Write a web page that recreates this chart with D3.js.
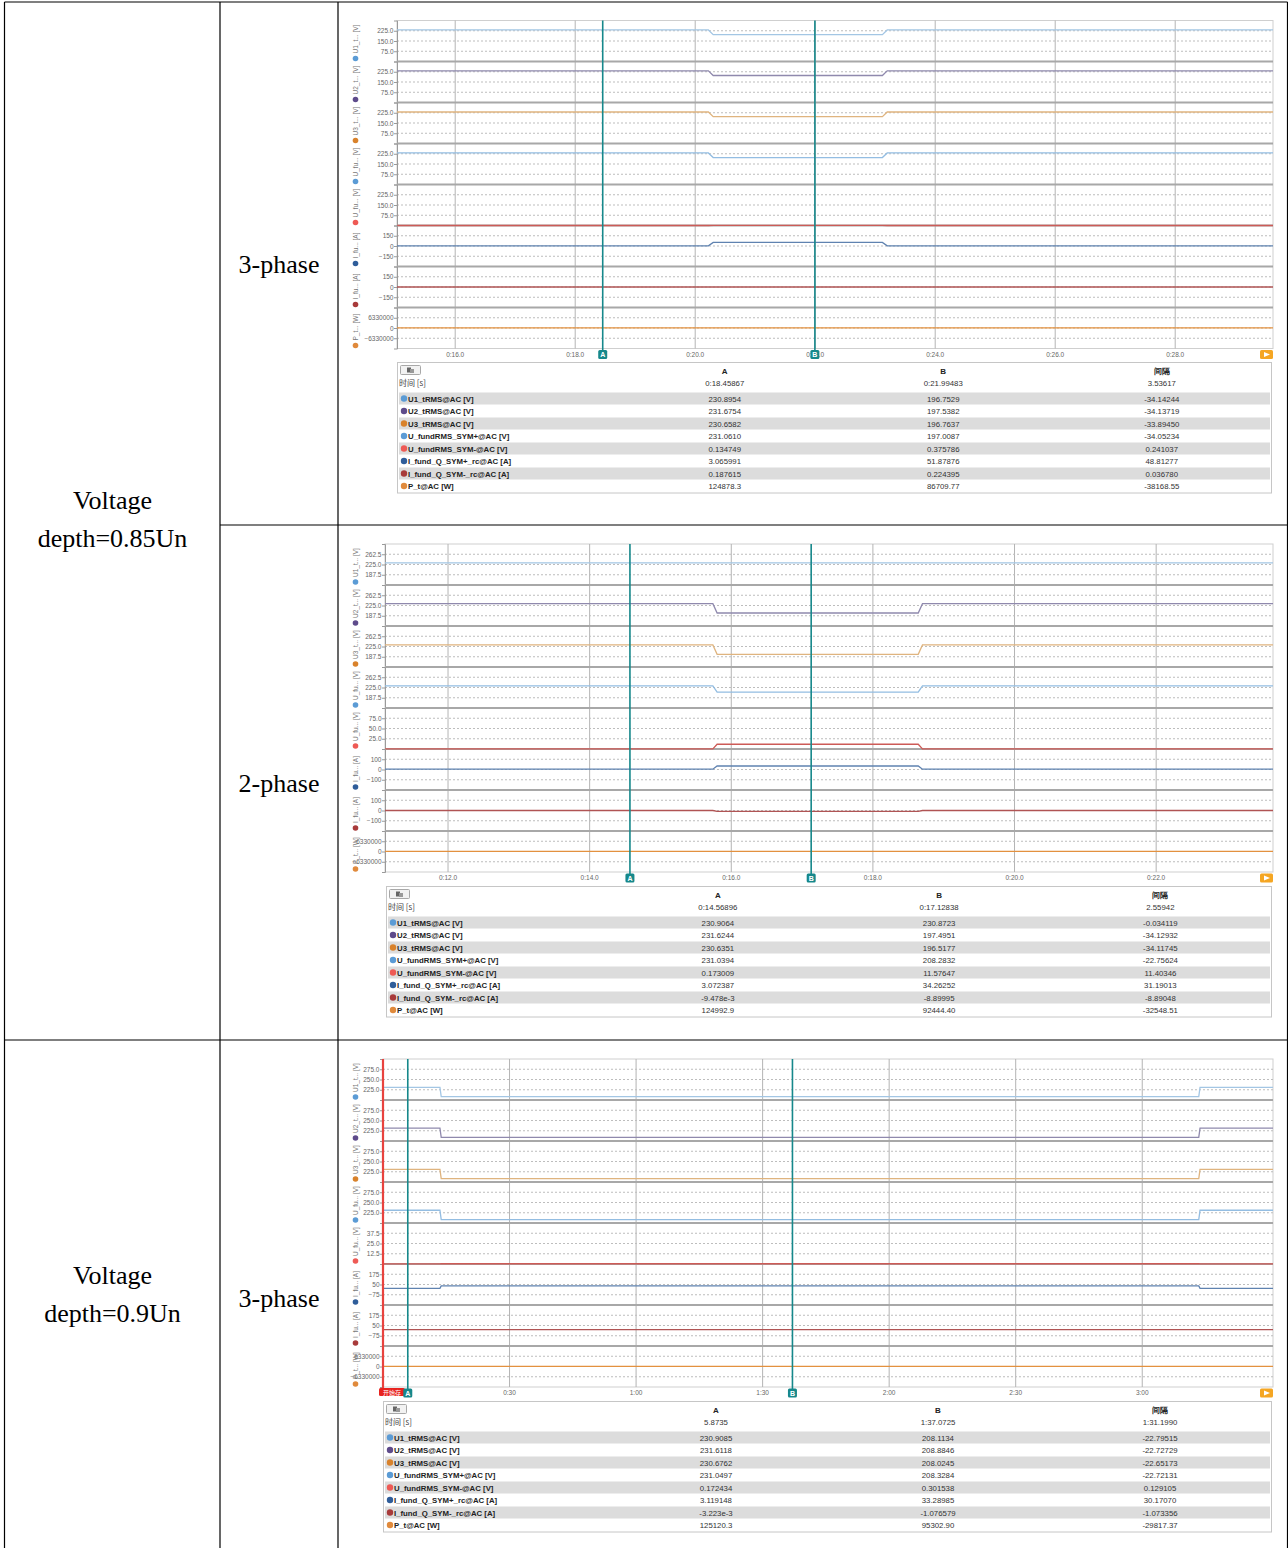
<!DOCTYPE html>
<html>
<head>
<meta charset="utf-8">
<script src="https://cdn.jsdelivr.net/npm/d3@7"></script>
<style>
  body { margin: 0; background: #fff; }
  svg { display: block; }
</style>
</head>
<body>
<div id="chart"></div>
<script>
// channel names (table) and short names (rotated axis labels)
var channelNames = ["U1_tRMS@AC [V]", "U2_tRMS@AC [V]", "U3_tRMS@AC [V]", "U_fundRMS_SYM+@AC [V]",
  "U_fundRMS_SYM-@AC [V]", "I_fund_Q_SYM+_rc@AC [A]", "I_fund_Q_SYM-_rc@AC [A]", "P_t@AC [W]"];
var axisNames = ["U1_t... [V]", "U2_t... [V]", "U3_t... [V]", "U_fu... [V]", "U_fu... [V]",
  "I_fu... [A]", "I_fu... [A]", "P_t... [W]"];
var dotColors = ["#5b9bd5", "#5e4b8b", "#d9822b", "#5b9bd5", "#ee5a55", "#2f5d9a", "#a83a3a", "#e08a3c"];
var lineColors = ["#a3c6e4", "#8f89ad", "#dfb47f", "#93bde2", "#cd5b57", "#5f82b0", "#b05454", "#e3913f"];

var groupLabels = [["Voltage", "depth=0.85Un"], ["Voltage", "depth=0.9Un"]];
var phaseLabels = ["3-phase", "2-phase", "3-phase"];
var colHeads = ["A", "B", "间隔"];

// panel 1 : 0.85Un, 3-phase
var p1Time = ["0:18.45867", "0:21.99483", "3.53617"];
var p1A = ["230.8954", "231.6754", "230.6582", "231.0610", "0.134749", "3.065991", "0.187615", "124878.3"];
var p1B = ["196.7529", "197.5382", "196.7637", "197.0087", "0.375786", "51.87876", "0.224395", "86709.77"];
var p1D = ["-34.14244", "-34.13719", "-33.89450", "-34.05234", "0.241037", "48.81277", "0.036780", "-38168.55"];
var p1Cursors = [18.45867, 21.99483];
var p1Sag = [20.22, 20.3, 23.12, 23.2];
var p1Range = [15.03, 29.63];
var p1Ticks = [16, 18, 20, 22, 24, 26, 28];
var p1YDom = [[0, 300], [0, 300], [0, 300], [0, 300], [0, 300], [-300, 300], [-300, 300], [-12660000, 12660000]];
var p1YTicks = [[75, 150, 225], [75, 150, 225], [75, 150, 225], [75, 150, 225], [75, 150, 225],
  [-150, 0, 150], [-150, 0, 150], [-6330000, 0, 6330000]];

// panel 2 : 0.85Un, 2-phase
var p2Time = ["0:14.56896", "0:17.12838", "2.55942"];
var p2A = ["230.9064", "231.6244", "230.6351", "231.0394", "0.173009", "3.072387", "-9.478e-3", "124992.9"];
var p2B = ["230.8723", "197.4951", "196.5177", "208.2832", "11.57647", "34.26252", "-8.89995", "92444.40"];
var p2D = ["-0.034119", "-34.12932", "-34.11745", "-22.75624", "11.40346", "31.19013", "-8.89048", "-32548.51"];
var p2Cursors = [14.56896, 17.12838];
var p2Sag = [15.74, 15.8, 18.64, 18.7];
var p2Range = [11.11, 23.65];
var p2Ticks = [12, 14, 16, 18, 20, 22];
var p2YDom = [[150, 300], [150, 300], [150, 300], [150, 300], [0, 100], [-200, 200], [-200, 200], [-12660000, 12660000]];
var p2YTicks = [[187.5, 225, 262.5], [187.5, 225, 262.5], [187.5, 225, 262.5], [187.5, 225, 262.5], [25, 50, 75],
  [-100, 0, 100], [-100, 0, 100], [-6330000, 0, 6330000]];

// panel 3 : 0.9Un, 3-phase
var p3Time = ["5.8735", "1:37.0725", "1:31.1990"];
var p3A = ["230.9085", "231.6118", "230.6762", "231.0497", "0.172434", "3.119148", "-3.223e-3", "125120.3"];
var p3B = ["208.1134", "208.8846", "208.0245", "208.3284", "0.301538", "33.28985", "-1.076579", "95302.90"];
var p3D = ["-22.79515", "-22.72729", "-22.65173", "-22.72131", "0.129105", "30.17070", "-1.073356", "-29817.37"];
var p3Cursors = [5.8735, 97.0725];
var p3Sag = [13.5, 13.8, 193.4, 193.7];
var p3Range = [0, 211];
var p3Ticks = [30, 60, 90, 120, 150, 180];
var p3YDom = [[200, 300], [200, 300], [200, 300], [200, 300], [0, 50], [-200, 300], [-200, 300], [-12660000, 12660000]];
var p3YTicks = [[225, 250, 275], [225, 250, 275], [225, 250, 275], [225, 250, 275], [12.5, 25, 37.5],
  [-75, 50, 175], [-75, 50, 175], [-6330000, 0, 6330000]];

var W = 1288, H = 1548;
var svg = d3.select("#chart").append("svg").attr("width", W).attr("height", H);
var uiFont = "'Liberation Sans', Arial, sans-serif";
var teal = "#16888b";

// ---- outer document table ----
var border = svg.append("g").attr("stroke", "#000").attr("stroke-width", 1.2);
[[4.5, 2, 1287.5, 2], [4.5, 2, 4.5, H], [220, 2, 220, H], [338, 2, 338, H], [1287.5, 2, 1287.5, H],
 [220, 525, 1288, 525], [4.5, 1040, 1288, 1040]].forEach(function(l) {
  border.append("line").attr("x1", l[0]).attr("y1", l[1]).attr("x2", l[2]).attr("y2", l[3]);
});

var serif = "'Liberation Serif', 'Times New Roman', serif";
[[112.5, 519], [112.5, 1294]].forEach(function(c, i) {
  svg.append("text").attr("x", c[0]).attr("y", c[1] - 10).attr("text-anchor", "middle")
    .attr("font-family", serif).attr("font-size", 26).text(groupLabels[i][0]);
  svg.append("text").attr("x", c[0]).attr("y", c[1] + 28).attr("text-anchor", "middle")
    .attr("font-family", serif).attr("font-size", 26).text(groupLabels[i][1]);
});
[264, 783, 1298].forEach(function(y, i) {
  svg.append("text").attr("x", 279).attr("y", y + 9).attr("text-anchor", "middle")
    .attr("font-family", serif).attr("font-size", 26).text(phaseLabels[i]);
});

// clock style tick labels
function clockFmt(dec) {
  return function(t) {
    var m = Math.floor(t / 60), s = t - m * 60;
    var ss = dec ? s.toFixed(1) : String(Math.round(s));
    if (s < 10) ss = "0" + ss;
    return m + ":" + ss;
  };
}

var panels = [
  { x0: 397, x1: 1273, top: 20.5, range: p1Range, ticks: p1Ticks, fmt: clockFmt(true), cursors: p1Cursors,
    sag: p1Sag, A: p1A, B: p1B, D: p1D, time: p1Time, yDom: p1YDom, yTicks: p1YTicks,
    table: { x0: 397, x1: 1271, top: 362 } },
  { x0: 385, x1: 1273, top: 544, range: p2Range, ticks: p2Ticks, fmt: clockFmt(true), cursors: p2Cursors,
    sag: p2Sag, A: p2A, B: p2B, D: p2D, time: p2Time, yDom: p2YDom, yTicks: p2YTicks,
    table: { x0: 386, x1: 1271, top: 886 } },
  { x0: 383, x1: 1273, top: 1059, range: p3Range, ticks: p3Ticks, fmt: clockFmt(false), cursors: p3Cursors,
    sag: p3Sag, A: p3A, B: p3B, D: p3D, time: p3Time, yDom: p3YDom, yTicks: p3YTicks,
    table: { x0: 383, x1: 1271, top: 1401 }, start: true }
];

var stripH = 41;

panels.forEach(function(p) {
  var g = svg.append("g");
  var bottom = p.top + stripH * 8;
  var x = d3.scaleLinear().domain(p.range).range([p.x0, p.x1]);

  // plot frame
  g.append("rect").attr("x", p.x0).attr("y", p.top).attr("width", p.x1 - p.x0).attr("height", bottom - p.top)
    .attr("fill", "#fff").attr("stroke", "#cfcfcf");

  // vertical time grid
  g.selectAll(".vg").data(p.ticks).enter().append("line")
    .attr("x1", function(d) { return x(d); }).attr("x2", function(d) { return x(d); })
    .attr("y1", p.top).attr("y2", bottom).attr("stroke", "#b4b4b4").attr("stroke-width", 1);

  p.A.forEach(function(aStr, i) {
    var sy = p.top + i * stripH;
    var y = d3.scaleLinear().domain(p.yDom[i]).range([sy + stripH, sy]);
    var isV = i < 5;
    var tf = isV ? d3.format(".1f") : d3.format("d");

    // dashed grid
    g.selectAll(null).data(p.yTicks[i]).enter().append("line")
      .attr("x1", p.x0).attr("x2", p.x1)
      .attr("y1", function(d) { return y(d); }).attr("y2", function(d) { return y(d); })
      .attr("stroke", "#bdbdbd").attr("stroke-dasharray", "2,2").attr("stroke-width", 1);

    // left axis
    var ax = g.append("g").attr("transform", "translate(" + p.x0 + ",0)")
      .call(d3.axisLeft(y).tickValues(p.yTicks[i]).tickSize(3).tickFormat(tf));
    ax.select(".domain").attr("stroke", "#9a9a9a");
    ax.selectAll(".tick line").attr("stroke", "#9a9a9a");
    ax.selectAll(".tick text").attr("font-family", uiFont).attr("font-size", 6.5).attr("fill", "#666")
      .attr("x", -3.5);

    // strip separator
    if (i < 7) {
      g.append("line").attr("x1", p.x0).attr("x2", p.x1).attr("y1", sy + stripH).attr("y2", sy + stripH)
        .attr("stroke", "#a8a8a8").attr("stroke-width", 2);
    }

    // rotated channel label with colored dot
    var lb = sy + stripH - 3;
    g.append("circle").attr("cx", 355.5).attr("cy", lb).attr("r", 2.8).attr("fill", dotColors[i]);
    g.append("text").attr("transform", "translate(358," + (lb - 5) + ") rotate(-90)")
      .attr("font-family", uiFont).attr("font-size", 6.5).attr("fill", "#777").text(axisNames[i]);

    // step series: level A before/after, level B during the dip
    var a = +aStr, b = +p.B[i];
    var pts = [[p.range[0], a], [p.sag[0], a], [p.sag[1], b], [p.sag[2], b], [p.sag[3], a], [p.range[1], a]];
    var line = d3.line().x(function(d) { return x(d[0]); }).y(function(d) { return y(d[1]); });
    g.append("path").datum(pts).attr("d", line).attr("fill", "none")
      .attr("stroke", lineColors[i]).attr("stroke-width", 1.3);
  });

  // x tick labels
  g.selectAll(".xl").data(p.ticks).enter().append("text")
    .attr("x", function(d) { return x(d); }).attr("y", bottom + 8).attr("text-anchor", "middle")
    .attr("font-family", uiFont).attr("font-size", 6.5).attr("fill", "#666").text(p.fmt);

  // record start marker
  if (p.start) {
    g.append("line").attr("x1", x(0)).attr("x2", x(0)).attr("y1", p.top).attr("y2", bottom + 3)
      .attr("stroke", "#e8433f").attr("stroke-width", 2.2);
    g.append("rect").attr("x", x(0) - 4).attr("y", bottom + 1).attr("width", 26).attr("height", 8)
      .attr("rx", 1.5).attr("fill", "#e8231f");
    g.append("text").attr("x", x(0) + 9).attr("y", bottom + 7.5).attr("text-anchor", "middle")
      .attr("font-family", "'Noto Sans CJK SC', sans-serif").attr("font-size", 6).attr("fill", "#fff").text("开始存");
  }

  // cursors A / B
  p.cursors.forEach(function(t, k) {
    var cx = x(t);
    g.append("line").attr("x1", cx).attr("x2", cx).attr("y1", p.top).attr("y2", bottom + 2)
      .attr("stroke", teal).attr("stroke-width", 1.6);
    g.append("rect").attr("x", cx - 4.5).attr("y", bottom + 1.5).attr("width", 9).attr("height", 9)
      .attr("rx", 1.5).attr("fill", teal);
    g.append("text").attr("x", cx).attr("y", bottom + 8.8).attr("text-anchor", "middle")
      .attr("font-family", uiFont).attr("font-weight", "bold").attr("font-size", 7).attr("fill", "#fff")
      .text(colHeads[k]);
  });

  // orange play button at the end of the time axis
  g.append("rect").attr("x", p.x1 - 13).attr("y", bottom + 1.5).attr("width", 13).attr("height", 9)
    .attr("rx", 1.5).attr("fill", "#f5a623");
  g.append("path").attr("d", "M" + (p.x1 - 9) + "," + (bottom + 3.5) + "l6,2.5l-6,2.5z").attr("fill", "#fff");

  // cursor value table
  var t = p.table, tw = t.x1 - t.x0, rowH = 12.5;
  var tg = svg.append("g").attr("font-family", uiFont);
  tg.append("rect").attr("x", t.x0 + 0.5).attr("y", t.top + 0.5).attr("width", tw).attr("height", 30.5 + 8 * rowH)
    .attr("fill", "#fff").attr("stroke", "#c6c6c6");
  tg.append("rect").attr("x", t.x0 + 3.5).attr("y", t.top + 3.5).attr("width", 20).attr("height", 9)
    .attr("rx", 1).attr("fill", "#f2f2f2").attr("stroke", "#a8a8a8");
  tg.append("rect").attr("x", t.x0 + 10).attr("y", t.top + 5.5).attr("width", 4).attr("height", 5).attr("fill", "#666");
  tg.append("rect").attr("x", t.x0 + 13).attr("y", t.top + 7).attr("width", 4).attr("height", 4).attr("fill", "#999");

  var cols = [t.x0 + tw * 3 / 8, t.x0 + tw * 5 / 8, t.x0 + tw * 7 / 8];
  cols.forEach(function(cx, k) {
    tg.append("text").attr("x", cx).attr("y", t.top + 12).attr("text-anchor", "middle")
      .attr("font-weight", "bold").attr("font-size", 8).attr("fill", "#222").text(colHeads[k]);
    tg.append("text").attr("x", cx).attr("y", t.top + 24).attr("text-anchor", "middle")
      .attr("font-size", 7.8).attr("fill", "#333").text(p.time[k]);
  });
  tg.append("text").attr("x", t.x0 + 2).attr("y", t.top + 24).attr("font-size", 8).attr("fill", "#444")
    .attr("font-family", "'Noto Sans CJK SC', sans-serif").text("时间 [s]");

  channelNames.forEach(function(name, i) {
    var ry = t.top + 30.5 + i * rowH;
    if (i % 2 === 0) {
      tg.append("rect").attr("x", t.x0 + 2).attr("y", ry).attr("width", tw - 3).attr("height", 12).attr("fill", "#dcdcdc");
    }
    tg.append("circle").attr("cx", t.x0 + 7).attr("cy", ry + 6).attr("r", 3.2).attr("fill", dotColors[i]);
    tg.append("text").attr("x", t.x0 + 11).attr("y", ry + 9).attr("font-weight", "bold").attr("font-size", 7.8)
      .attr("fill", "#222").text(name);
    [p.A[i], p.B[i], p.D[i]].forEach(function(v, k) {
      tg.append("text").attr("x", cols[k]).attr("y", ry + 9).attr("text-anchor", "middle")
        .attr("font-size", 7.8).attr("fill", "#333").text(v);
    });
  });
});
</script>
</body>
</html>
